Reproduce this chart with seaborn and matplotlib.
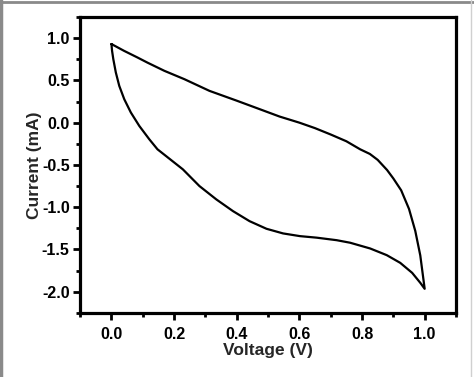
import matplotlib
matplotlib.use("Agg")
import matplotlib.pyplot as plt
from matplotlib.ticker import MultipleLocator
from matplotlib.lines import Line2D
import seaborn as sns
import pandas as pd

# Upper (anodic) branch, 0 -> 1 V
upper_v = [0.0, 0.04, 0.083, 0.115, 0.169, 0.233, 0.313, 0.4, 0.473, 0.537, 0.6, 0.65,
           0.7, 0.75, 0.794, 0.825, 0.85, 0.88, 0.9, 0.925, 0.95, 0.97, 0.986, 1.0]
upper_i = [0.93, 0.85, 0.771, 0.71, 0.613, 0.514, 0.376, 0.26, 0.16, 0.072, 0.0, -0.065,
           -0.14, -0.22, -0.315, -0.37, -0.44, -0.56, -0.66, -0.8, -1.02, -1.28, -1.57, -1.965]
# Lower (cathodic) branch, 1 -> 0 V
lower_v = [1.0, 0.986, 0.96, 0.922, 0.879, 0.826, 0.762, 0.719, 0.655, 0.602, 0.548,
           0.495, 0.441, 0.388, 0.335, 0.281, 0.228, 0.2, 0.147, 0.121, 0.089, 0.062,
           0.041, 0.025, 0.014, 0.006, 0.002, 0.0]
lower_i = [-1.965, -1.894, -1.776, -1.658, -1.567, -1.488, -1.42, -1.39, -1.36, -1.342,
           -1.31, -1.255, -1.165, -1.046, -0.908, -0.75, -0.552, -0.47, -0.315, -0.197,
           -0.039, 0.12, 0.277, 0.435, 0.594, 0.751, 0.85, 0.93]

x_ticks = [0.0, 0.2, 0.4, 0.6, 0.8, 1.0]
y_ticks = [1.0, 0.5, 0.0, -0.5, -1.0, -1.5, -2.0]

df = pd.DataFrame({
    "Voltage": upper_v + lower_v,
    "Current": upper_i + lower_i,
})

sns.set_style("white")
plt.rcParams["font.family"] = ["Liberation Sans", "DejaVu Sans"]
plt.rcParams["font.weight"] = "bold"
plt.rcParams["lines.solid_joinstyle"] = "round"

fig = plt.figure(figsize=(4.74, 3.77), dpi=100)
ax = fig.add_axes([0.169, 0.170, 0.793, 0.785])

sns.lineplot(data=df, x="Voltage", y="Current", sort=False, estimator=None,
             color="black", linewidth=1.6, ax=ax)

ax.set_xlim(-0.1, 1.1)
ax.set_ylim(-2.25, 1.25)
ax.set_xticks(x_ticks)
ax.set_xticklabels([f"{t:.1f}" for t in x_ticks])
ax.set_yticks(y_ticks)
ax.set_yticklabels([f"{t:.1f}" for t in y_ticks])
ax.xaxis.set_minor_locator(MultipleLocator(0.1))
ax.yaxis.set_minor_locator(MultipleLocator(0.25))

for s in ax.spines.values():
    s.set_linewidth(2.3)
    s.set_color("black")

ax.tick_params(which="major", direction="out", length=5, width=2, labelsize=11.5,
               bottom=True, left=True, top=False, right=False, colors="black", pad=2.5)
ax.tick_params(axis="x", which="major", pad=5)
ax.tick_params(which="minor", direction="out", length=3, width=2,
               bottom=True, left=True, top=False, right=False, colors="black")
for lab in ax.get_xticklabels() + ax.get_yticklabels():
    lab.set_fontweight("bold")

ax.set_xlabel("Voltage (V)", fontsize=12.5, fontweight="bold", labelpad=1)
ax.set_ylabel("Current (mA)", fontsize=12.5, fontweight="bold", labelpad=0)

# grey image border as in the reference
fig.add_artist(Line2D([0.003, 0.003], [0, 1], transform=fig.transFigure, color="#8a8a8a", linewidth=2.5))
fig.add_artist(Line2D([0, 1], [0.996, 0.996], transform=fig.transFigure, color="#8a8a8a", linewidth=2))
fig.add_artist(Line2D([0.994, 0.994], [0, 1], transform=fig.transFigure, color="#d0d0d0", linewidth=1))

fig.savefig("out.png", dpi=100)
